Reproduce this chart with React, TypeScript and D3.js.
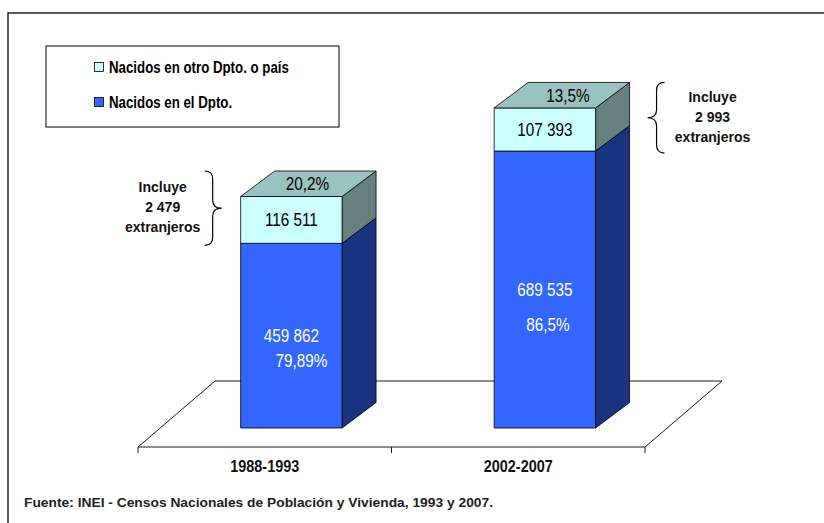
import React from "react";
import * as d3 from "d3";

// chart data
const periods = ["1988-1993", "2002-2007"];
const nacidosDpto = [459862, 689535];
const nacidosOtro = [116511, 107393];
const pctDpto = ["79,89%", "86,5%"];
const pctOtro = ["20,2%", "13,5%"];
const extranjeros = ["2 479", "2 993"];
const legendLabels = ["Nacidos en otro Dpto. o país", "Nacidos en el Dpto."];
const fuente = "Fuente: INEI - Censos Nacionales de Población y Vivienda, 1993 y 2007.";

const W = 824;
const H = 523;
const FONT = "'Liberation Sans', Arial, sans-serif";

const colors = {
  dpto: { front: "#3366FF", side: "#1A3380" },
  otro: { front: "#CCFFFF", side: "#668080", top: "#99C2C0" },
};

const fmt = d3.formatLocale({ decimal: ",", thousands: " ", grouping: [3], currency: ["", ""] }).format(",d");

// floor / axis geometry
const floorFront = 447;
const floorDepth = { dx: 77, dy: -66 };
const barDepth = { dx: 34, dy: -25.5 };

const x = d3.scaleBand<string>().domain(periods).range([138, 645]).paddingInner(0).paddingOuter(0);
const y = d3.scaleLinear().domain([0, 800000]).range([428, 106.7]);

const poly = (pts: [number, number][]) => "M" + pts.map((p) => p.join(",")).join("L") + "Z";

// curly brace, pointing toward tip (dir = 1 right, -1 left)
const brace = (xs: number, y0: number, y1: number, dir: number) => {
  const ym = (y0 + y1) / 2;
  const x0 = xs - 8 * dir;
  const tip = xs + 9 * dir;
  const r = 8;
  return `M${x0},${y0} Q${xs},${y0} ${xs},${y0 + r} L${xs},${ym - r} Q${xs},${ym} ${tip},${ym}` +
    ` Q${xs},${ym} ${xs},${ym + r} L${xs},${y1 - r} Q${xs},${y1} ${x0},${y1}`;
};

// narrow text: no condensed font installed, so squeeze horizontally
const NText = ({ x, y, sx = 0.85, children, ...rest }: any) => (
  <text transform={`translate(${x},${y}) scale(${sx},1)`} fontFamily={FONT} {...rest}>{children}</text>
);

const Bar = ({ i }: { i: number }) => {
  const bw = x.bandwidth();
  const x0 = (x(periods[i]) as number) + bw * 0.405;
  const w = bw * 0.4;
  const { dx, dy } = barDepth;
  const segs = [
    { lo: 0, hi: nacidosDpto[i], c: colors.dpto },
    { lo: nacidosDpto[i], hi: nacidosDpto[i] + nacidosOtro[i], c: colors.otro },
  ];
  const topY = y(nacidosDpto[i] + nacidosOtro[i]);
  return (
    <g stroke="#000" strokeWidth={0.8} strokeLinejoin="round">
      {segs.map((s, k) => {
        const yl = y(s.lo);
        const yh = y(s.hi);
        return (
          <g key={k}>
            <path d={poly([[x0 + w, yl], [x0 + w + dx, yl + dy], [x0 + w + dx, yh + dy], [x0 + w, yh]])} fill={s.c.side} />
            <rect x={x0} y={yh} width={w} height={yl - yh} fill={s.c.front} />
          </g>
        );
      })}
      <path d={poly([[x0, topY], [x0 + dx, topY + dy], [x0 + w + dx, topY + dy], [x0 + w, topY]])} fill={colors.otro.top} />
    </g>
  );
};

export default function App() {
  const bw = x.bandwidth();
  const x0s = periods.map((p) => (x(p) as number) + bw * 0.405);
  const w = bw * 0.4;
  const left = x.range()[0];
  const right = x.range()[1];
  const floorBack = floorFront + floorDepth.dy;

  return (
    <svg width={W} height={H} style={{ position: "absolute", left: 0, top: 0, background: "#fff" }}>
      {/* frame */}
      <path d={`M8,${H} L8,13 L${W},13`} fill="none" stroke="#222" strokeWidth={1.5} />

      {/* floor */}
      <path
        d={poly([[left, floorFront], [left + floorDepth.dx, floorBack], [right + floorDepth.dx, floorBack], [right, floorFront]])}
        fill="#fff"
        stroke="#000"
        strokeWidth={0.9}
      />
      {/* category ticks */}
      {[left, ...periods.map((p) => (x(p) as number) + bw)].map((t, k) => (
        <line key={k} x1={t} x2={t} y1={floorFront} y2={floorFront + 6} stroke="#000" strokeWidth={0.9} />
      ))}
      {periods.map((p) => (
        <NText key={p} x={(x(p) as number) + bw / 2} y={floorFront + 25} textAnchor="middle"
          fontWeight="bold" fontSize={17} fill="#111">{p}</NText>
      ))}

      {periods.map((_, i) => <Bar key={i} i={i} />)}

      {/* bar labels */}
      {periods.map((_, i) => {
        const cx = x0s[i] + w / 2;
        const ym = y(nacidosDpto[i]);
        const yt = y(nacidosDpto[i] + nacidosOtro[i]);
        const mid = (ym + y(0)) / 2;
        const pctGap = i === 0 ? 25 : 35;
        return (
          <g key={i} fontSize={18}>
            <NText x={cx + barDepth.dx / 2 + (i === 0 ? -1 : 6)} y={yt + barDepth.dy / 2 + 6.5} textAnchor="middle" fill="#000">{pctOtro[i]}</NText>
            <NText x={cx} y={(ym + yt) / 2 + 6.5} textAnchor="middle" fill="#000">{fmt(nacidosOtro[i])}</NText>
            <NText x={cx} y={mid + 6.5} textAnchor="middle" fill="#fff">{fmt(nacidosDpto[i])}</NText>
            <NText x={cx + (i === 0 ? 10 : 3)} y={mid + 6.5 + pctGap} textAnchor="middle" fill="#fff">{pctDpto[i]}</NText>
          </g>
        );
      })}

      {/* annotations: braces */}
      {periods.map((_, i) => {
        const yt = y(nacidosDpto[i] + nacidosOtro[i]) + barDepth.dy;
        const yb = y(nacidosDpto[i]) + 2;
        const dir = i === 0 ? 1 : -1;
        const xs = i === 0 ? x0s[i] - 28 : x0s[i] + w + barDepth.dx + 27;
        const tx = i === 0 ? xs - 50 : xs + 56;
        const ym = (yt + yb) / 2;
        return (
          <g key={i}>
            <path d={brace(xs, yt, yb, dir)} fill="none" stroke="#000" strokeWidth={1.2} />
            <g fontFamily={FONT} fontWeight="bold" fontSize={14} textAnchor="middle" fill="#111">
              <text x={tx} y={ym - 16}>Incluye</text>
              <text x={tx} y={ym + 4}>{extranjeros[i]}</text>
              <text x={tx} y={ym + 24}>extranjeros</text>
            </g>
          </g>
        );
      })}

      {/* legend */}
      <rect x={46} y={46} width={293} height={81} fill="#fff" stroke="#000" strokeWidth={1} />
      {legendLabels.map((l, k) => (
        <g key={l}>
          <rect x={94.5} y={62.5 + k * 35} width={9} height={9} fill={k === 0 ? colors.otro.front : colors.dpto.front} stroke="#000" strokeWidth={0.8} />
          <NText x={109} y={72.5 + k * 35} sx={0.83} fontWeight="bold" fontSize={16} fill="#000">{l}</NText>
        </g>
      ))}

      {/* source */}
      <text x={24} y={507} fontFamily={FONT} fontWeight="bold" fontSize={13.5} fill="#222"
        textLength={469} lengthAdjust="spacingAndGlyphs">{fuente}</text>
    </svg>
  );
}
